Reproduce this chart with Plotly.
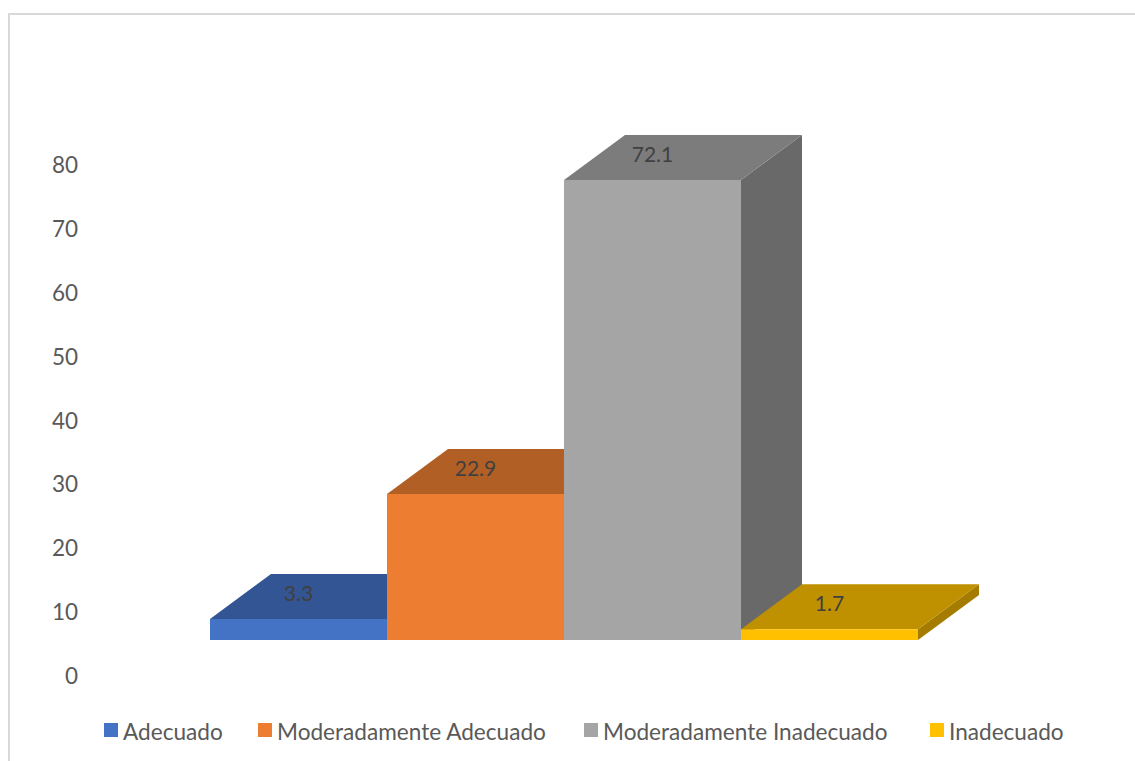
"""
Faux-3D column chart: Adecuado .. Inadecuado, with depth faces drawn from the values.
"""
import plotly.graph_objects as go

CATEGORIES = ["Adecuado", "Moderadamente Adecuado", "Moderadamente Inadecuado", "Inadecuado"]
VALUES = [3.3, 22.9, 72.1, 1.7]
Y_TICKS = [0, 10, 20, 30, 40, 50, 60, 70, 80]

FRONT = ["#4472C4", "#ED7D31", "#A5A5A5", "#FFC000"]
TOP = ["#335593", "#B25F25", "#7C7C7C", "#BF9000"]
SIDE = ["#294577", "#8E4B1D", "#696969", "#A67C00"]
TEXT = "#595959"
LABEL = "#404040"
FRAME = "#D9D9D9"
FONT = "Lato, sans-serif"

WIDTH, HEIGHT = 1135, 761
M_L, M_R, M_T, M_B = 79, 135, 100, 85
PX_PER_UNIT = 6.38      # y scale
PX_PER_BAR = 177.0      # x scale
FLOOR = 36 / PX_PER_UNIT    # front edge of the floor sits above the axis zero
DEPTH_X = 61 / PX_PER_BAR
DEPTH_Y = 45 / PX_PER_UNIT

# hand placed legend, window pixels: swatch left edges and text left edges
LEGEND_SWATCH_X = [104, 258, 584, 930]
LEGEND_TEXT_X = [124, 278, 604, 950]
LEGEND_Y = 730
SWATCH = 14

plot_w = WIDTH - M_L - M_R
plot_h = HEIGHT - M_T - M_B
x_min = -0.5 - (210 - M_L) / PX_PER_BAR
x_max = x_min + plot_w / PX_PER_BAR
y_max = plot_h / PX_PER_UNIT


def px(x):
    return (x - M_L) / plot_w


def py(y):
    return (M_T + plot_h - y) / plot_h


def poly(points):
    return "M " + " L ".join(f"{x},{y}" for x, y in points) + " Z"


fig = go.Figure()

for i, (cat, val) in enumerate(zip(CATEGORIES, VALUES)):
    fig.add_trace(go.Bar(
        x=[i], y=[val], base=FLOOR, width=1, name=cat, showlegend=False,
        marker=dict(color=FRONT[i], line=dict(width=0)),
    ))
    top = FLOOR + val
    left, right = i - 0.5, i + 0.5
    # depth faces go under the bars, so each column hides the one behind it
    fig.add_shape(
        type="path", xref="x", yref="y", layer="below", line_width=0, fillcolor=SIDE[i],
        path=poly([(right, FLOOR), (right, top), (right + DEPTH_X, top + DEPTH_Y),
                   (right + DEPTH_X, FLOOR + DEPTH_Y)]),
    )
    fig.add_shape(
        type="path", xref="x", yref="y", layer="below", line_width=0, fillcolor=TOP[i],
        path=poly([(left, top), (right, top), (right + DEPTH_X, top + DEPTH_Y),
                   (left + DEPTH_X, top + DEPTH_Y)]),
    )
    # legend entry
    fig.add_shape(
        type="rect", xref="paper", yref="paper", line_width=0, fillcolor=FRONT[i],
        x0=px(LEGEND_SWATCH_X[i]), x1=px(LEGEND_SWATCH_X[i] + SWATCH),
        y0=py(LEGEND_Y - SWATCH / 2), y1=py(LEGEND_Y + SWATCH / 2),
    )
    fig.add_annotation(
        text=cat, xref="paper", yref="paper", showarrow=False,
        x=px(LEGEND_TEXT_X[i]), xanchor="left", y=py(LEGEND_Y + 1), yanchor="middle",
        borderpad=0, borderwidth=0, xshift=-1,
        font=dict(family=FONT, size=22.6, color=TEXT),
    )

fig.add_trace(go.Scatter(
    x=list(range(len(VALUES))),
    y=[FLOOR + v + 23 / PX_PER_UNIT for v in VALUES],
    text=[str(v) for v in VALUES],
    mode="text", textposition="middle center", showlegend=False,
    textfont=dict(family=FONT, size=21, color=LABEL),
    hoverinfo="skip",
))

# chart frame, cut off by the right and bottom of the picture
fig.add_shape(
    type="path", xref="paper", yref="paper", line=dict(color=FRAME, width=2),
    path=f"M {px(9)},{py(761)} L {px(9)},{py(14)} L {px(1135)},{py(14)}",
)

fig.update_layout(
    width=WIDTH, height=HEIGHT,
    paper_bgcolor="#ffffff", plot_bgcolor="#ffffff",
    font=dict(family=FONT, color=TEXT, size=22),
    margin=dict(l=M_L, r=M_R, t=M_T, b=M_B, pad=0),
    barmode="overlay",
    showlegend=False,
    xaxis=dict(range=[x_min, x_max], visible=False),
    yaxis=dict(range=[0, y_max], tickvals=Y_TICKS, showgrid=False, zeroline=False,
               showline=False, ticks="", tickfont=dict(size=22.5, color=TEXT)),
)

# drop the page's default body margin so the figure fills the window
fig.write_html(
    "out.html",
    config=dict(displayModeBar=False),
    post_script="document.body.style.margin='0';document.body.style.overflow='hidden';",
)
